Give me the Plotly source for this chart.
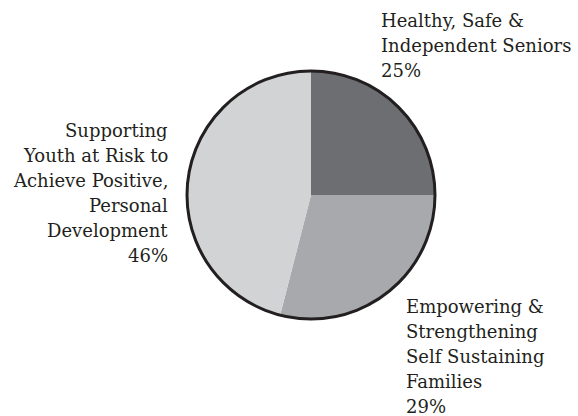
import plotly.graph_objects as go

categories = ["Healthy, Safe & Independent Seniors",
              "Empowering & Strengthening Self Sustaining Families",
              "Supporting Youth at Risk to Achieve Positive, Personal Development"]
values = [25, 29, 46]
colors = ["#6d6e71", "#a7a9ac", "#d1d3d4"]
label_lines = [
    ["Healthy, Safe &", "Independent Seniors", "25%"],
    ["Empowering &", "Strengthening", "Self Sustaining", "Families", "29%"],
    ["Supporting", "Youth at Risk to", "Achieve Positive,", "Personal", "Development", "46%"],
]

W, H = 578, 416
cx, cy, r = 311, 195, 124
dom_x = [(cx - r) / W, (cx + r) / W]
dom_y = [(H - cy - r) / H, (H - cy + r) / H]

fig = go.Figure()
fig.add_trace(go.Pie(
    labels=categories, values=values, sort=False, direction="clockwise",
    rotation=0, marker=dict(colors=colors, line=dict(width=0)),
    textinfo="none", hoverinfo="label+percent", showlegend=False,
    domain=dict(x=dom_x, y=dom_y),
))
fig.add_trace(go.Pie(
    labels=["outline"], values=[1], sort=False,
    marker=dict(colors=["rgba(0,0,0,0)"], line=dict(color="#231f20", width=3)),
    textinfo="none", hoverinfo="skip", showlegend=False,
    domain=dict(x=dom_x, y=dom_y),
))

# label block placement: (x px, first baseline px, anchor)
blocks = [(380, 27, "left"), (405, 313, "left"), (169, 137, "right")]
spacing = 25
fs = 18
anns = []
for (bx, by, anc), lines in zip(blocks, label_lines):
    for i, t in enumerate(lines):
        base = by + i * spacing
        ymid = base - 0.35 * fs
        anns.append(dict(
            text=t, x=bx / W, y=(H - ymid) / H, xref="paper", yref="paper",
            xanchor=anc, yanchor="middle", showarrow=False, borderpad=0,
            font=dict(family="DejaVu Serif", size=fs, color="#231f20"),
        ))

fig.update_layout(
    width=W, height=H, margin=dict(l=0, r=0, t=0, b=0),
    paper_bgcolor="white", plot_bgcolor="white", annotations=anns,
)
fig.write_html("out.html")
